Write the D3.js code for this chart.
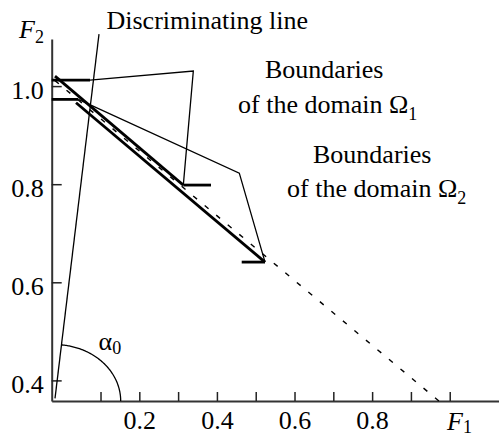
<!DOCTYPE html>
<html><head><meta charset="utf-8">
<script src="https://cdn.jsdelivr.net/npm/d3@7"></script>
<style>
html,body{margin:0;padding:0;background:#fff;}
svg{display:block;}
svg text{font-family:"Liberation Serif","Times New Roman",Times,"DejaVu Serif",serif !important;}
</style></head>
<body><svg id="c" width="499" height="437"></svg>
<script>
// ---- data (F1, F2) ----
const xTicks = [0.1,0.2,0.3,0.4,0.5,0.6,0.7,0.8,0.9,1.0];
const xTickLabels = [0.2,0.4,0.6,0.8];
const yTicks = [0.4,0.6,0.8,1.0];
const discriminatingLine = [[-0.0173,0.3633],[0.0961,1.106]];
const dashedLine = [[-0.0173,1.0112],[0.9879,0.3476]];
const thickUpper = [[-0.0173,1.0204],[0.3134,0.7982]];
const thickLower = [[0.0369,0.9660],[0.5240,0.6412]];
const omega1Polyline = [[0.0729,1.0122],[0.3392,1.0306],[0.3134,0.7982]];
const omega1Bars = [[[null,1.0122],[0.0729,1.0122]],[[0.3134,0.7982],[0.3848,0.7982]]];
const omega2Polyline = [[0.0428,0.9729],[0.4577,0.8226],[0.5240,0.6412]];
const omega2Bars = [[[null,0.9729],[0.0428,0.9729]],[[0.4639,0.6412],[0.5240,0.6412]]];
const arcCenter = [-0.018,0.358];
const arcRadii = [0.170,0.115];

const svg = d3.select("#c");
const x = d3.scaleLinear().domain([-0.0258,1.127]).range([51.7,499]);
const y = d3.scaleLinear().domain([0.358,1.096]).range([401,39]);
const x0 = x.domain()[0];
const line = d3.line().x(d=>x(d[0]===null?x0:d[0])).y(d=>y(d[1]));

// axes
const xAxis = d3.axisBottom(x).tickValues(xTicks).tickSizeInner(-9).tickSizeOuter(0)
  .tickFormat(d=>xTickLabels.some(v=>Math.abs(v-d)<1e-9)?d3.format(".1f")(d):"");
const gx = svg.append("g").attr("transform",`translate(0,${y(y.domain()[0])})`).call(xAxis);
gx.attr("font-family",null).attr("font-size",null);
gx.select(".domain").attr("stroke","#333").attr("stroke-width",2);
gx.selectAll(".tick line").attr("stroke","#222").attr("stroke-width",1.5);
gx.selectAll(".tick text").attr("y",28).attr("dy",0).attr("font-size",26).attr("fill","#000");

const yAxis = d3.axisLeft(y).tickValues(yTicks).tickSizeInner(-10).tickSizeOuter(0)
  .tickFormat(d3.format(".1f"));
const gy = svg.append("g").attr("transform",`translate(${x(x0)},0)`).call(yAxis);
gy.attr("font-family",null).attr("font-size",null);
gy.select(".domain").attr("stroke","#333").attr("stroke-width",2);
gy.selectAll(".tick line").attr("stroke","#222").attr("stroke-width",1.5);
gy.selectAll(".tick text").attr("x",-8).attr("dy",0).attr("y",12).attr("font-size",26).attr("fill","#000");

// dashed line
svg.append("path").attr("d",line(dashedLine)).attr("fill","none").attr("stroke","#000")
  .attr("stroke-width",1.4).attr("stroke-dasharray","5,10");
// discriminating line
svg.append("path").attr("d",line(discriminatingLine)).attr("fill","none").attr("stroke","#000").attr("stroke-width",1.3);
// boundaries
[omega1Polyline,omega2Polyline].forEach(p=>svg.append("path").attr("d",line(p)).attr("fill","none")
  .attr("stroke","#000").attr("stroke-width",1.3).attr("stroke-linejoin","miter"));
[...omega1Bars,...omega2Bars].forEach(b=>svg.append("path").attr("d",line(b)).attr("fill","none")
  .attr("stroke","#000").attr("stroke-width",2.8));
[thickUpper,thickLower].forEach(b=>svg.append("path").attr("d",line(b)).attr("fill","none")
  .attr("stroke","#000").attr("stroke-width",2.8));

// angle arc (elliptical in data units) from axis to the discriminating line
const cx = x(arcCenter[0]), cy = y(arcCenter[1]);
const rxp = x(arcCenter[0]+arcRadii[0])-cx, ryp = cy - y(arcCenter[1]+arcRadii[1]);
const ddx = x(discriminatingLine[1][0])-x(discriminatingLine[0][0]);
const ddy = y(discriminatingLine[0][1])-y(discriminatingLine[1][1]);
const tEnd = Math.atan2(ddy*rxp, ddx*ryp);
const arcPts = d3.range(0,101).map(i=>{const t=tEnd*i/100;return [cx+rxp*Math.cos(t), cy-ryp*Math.sin(t)];});
svg.append("path").attr("d",d3.line()(arcPts)).attr("fill","none").attr("stroke","#000").attr("stroke-width",1.3);

// texts
function txt(xp,yp,s,size,italic){return svg.append("text").attr("x",xp).attr("y",yp).attr("font-size",size)
  .attr("font-style",italic?"italic":"normal").attr("fill","#000").text(s);}
txt(106.5,29,"Discriminating line",26);
txt(265,78,"Boundaries",26);
const t1 = txt(238,113,"of the domain Ω",26);
t1.append("tspan").attr("font-size",18).attr("dy",7).text("1");
txt(313,163,"Boundaries",26);
const t2 = txt(287,197,"of the domain Ω",26);
t2.append("tspan").attr("font-size",18).attr("dy",7).text("2");
const a = txt(98.5,350,"α",26);
a.append("tspan").attr("font-size",18).attr("dy",4).text("0");
const f2 = txt(19,38,"F",26,true);
f2.append("tspan").attr("font-size",18).attr("font-style","normal").attr("dy",5).text("2");
const f1 = txt(447,430,"F",26,true);
f1.append("tspan").attr("font-size",18).attr("font-style","normal").attr("dy",3).text("1");
</script></body></html>
